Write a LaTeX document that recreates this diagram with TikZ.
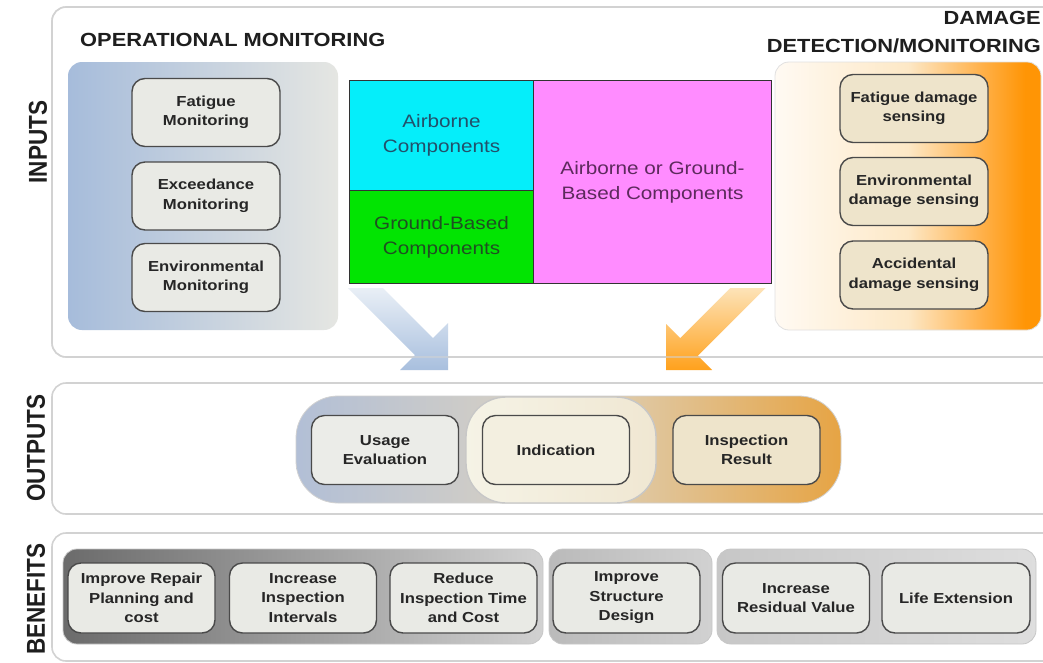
\documentclass[tikz,border=0pt]{standalone}
\usepackage{fontspec}
\usepackage{graphicx}
\setmainfont{Liberation Sans}[FakeStretch=1.15]
\newfontfamily\sidefont{Liberation Sans}

% palette
\definecolor{panelline}{HTML}{D2D2D2}
\definecolor{boxline}{HTML}{4A4A4A}
\definecolor{boxtext}{HTML}{262626}
\definecolor{headtext}{HTML}{1E1E1E}
\definecolor{omL}{HTML}{A6BCDB}
\definecolor{omR}{HTML}{E5E6E2}
\definecolor{grayfill}{HTML}{E9EAE5}
\definecolor{beigefill}{HTML}{EEE4CB}
\definecolor{cyanfill}{HTML}{05EEFA}
\definecolor{greenfill}{HTML}{02E402}
\definecolor{pinkfill}{HTML}{FF8CFF}
\definecolor{cyantext}{HTML}{22506A}
\definecolor{greentext}{HTML}{1F4F22}
\definecolor{pinktext}{HTML}{5D2A5D}
\definecolor{dmA}{HTML}{FFFAF3}
\definecolor{dmB}{HTML}{FDE8C6}
\definecolor{dmC}{HTML}{FFB048}
\definecolor{dmD}{HTML}{FF9505}
\definecolor{outL}{HTML}{B2BFD6}
\definecolor{outM}{HTML}{DDD3C0}
\definecolor{outR}{HTML}{E6A444}
\definecolor{indL}{HTML}{F5F3E6}
\definecolor{indR}{HTML}{F0E7D2}
\definecolor{arrBlueA}{HTML}{E9EFF6}
\definecolor{arrBlueB}{HTML}{A8BFDE}
\definecolor{arrOrA}{HTML}{FDE3B8}
\definecolor{arrOrB}{HTML}{FFA11C}

% background of the damage detection group
\pgfdeclarehorizontalshading{dmgshade}{100bp}{color(0bp)=(dmA); color(25bp)=(dmA); color(50bp)=(dmB); color(64bp)=(dmC); color(72bp)=(dmD); color(100bp)=(dmD)}

\tikzset{
  panel/.style={draw=panelline, line width=1.6pt, rounded corners=14pt, fill=white,
    inner sep=0pt, outer sep=0pt, anchor=north west},
  sidelabel/.style={rotate=90, inner sep=0pt, text=headtext,
    font=\sidefont\bfseries\fontsize{22.5}{24}\selectfont},
  header/.style={inner sep=0pt, text=headtext, font=\bfseries\fontsize{19}{28}\selectfont},
  card/.style={draw=boxline, line width=1.4pt, rounded corners=13pt, minimum width=148pt,
    minimum height=68pt, inner sep=0pt, align=center, text=boxtext,
    font=\bfseries\fontsize{14.5}{19.5}\selectfont},
  graycard/.style={card, fill=grayfill},
  beigecard/.style={card, fill=beigefill},
  block/.style={draw=black!80, line width=1pt, inner sep=0pt, anchor=north west, align=center,
    font=\fontsize{18}{25}\selectfont},
  group/.style={rounded corners=14pt, inner sep=0pt, outer sep=0pt},
  bengroup/.style={group, draw=black!22, line width=0.8pt, minimum height=95pt},
}

\begin{document}
\begin{tikzpicture}[x=1pt,y=-1pt]
\clip (0,0) rectangle (1043,662);
\fill[white] (0,0) rectangle (1043,662);

% ---------- three bands ----------
\node[panel, minimum width=1030pt, minimum height=350pt] (inputs) at (52,7) {};
\node[panel, minimum width=1030pt, minimum height=131pt] (outputs) at (52,383) {};
\node[panel, minimum width=1030pt, minimum height=128pt] (benefits) at (52,533) {};

\node[sidelabel] (lin) at (38,142) {\scalebox{1}[1.15]{INPUTS}};
\node[sidelabel] (lout) at (36,448) {\scalebox{1}[1.15]{OUTPUTS}};
\node[sidelabel] (lben) at (36,599) {\scalebox{1}[1.15]{BENEFITS}};

% ---------- inputs ----------
\node[header, anchor=west] (omhead) at (80,40) {OPERATIONAL MONITORING};
\node[header, anchor=north east, align=right] (dmhead) at (1041,11) {DAMAGE\\DETECTION/MONITORING};

\node[group, anchor=north west, minimum width=270pt, minimum height=268pt,
      left color=omL, right color=omR] (omgroup) at (68,62) {};
\node[graycard] (fat) at (206,112.5) {Fatigue\\Monitoring};
\node[graycard] (exc) at (206,196) {Exceedance\\Monitoring};
\node[graycard] (env) at (206,277.5) {Environmental\\Monitoring};

\node[group, anchor=north west, minimum width=266pt, minimum height=268pt,
      shading=dmgshade, draw=black!12, line width=0.8pt] (dmgroup) at (775,62) {};
\node[beigecard] (fds) at (914,108.5) {Fatigue damage\\sensing};
\node[beigecard] (eds) at (914,191.5) {Environmental\\damage sensing};
\node[beigecard] (ads) at (914,275) {Accidental\\damage sensing};

\node[block, fill=cyanfill, text=cyantext, minimum width=184pt, minimum height=110pt] (air) at (349,80) {Airborne\\Components};
\node[block, fill=greenfill, text=greentext, minimum width=184pt, minimum height=93pt] (gnd) at (349,190) {Ground-Based\\Components};
\node[block, fill=pinkfill, text=pinktext, minimum width=238pt, minimum height=203pt] (both) at (533,80) {Airborne or Ground-\\Based Components};

% ---------- flow arrows into the outputs ----------
\shade[top color=arrBlueA, bottom color=arrBlueB]
  (348,288) -- (383,288) -- (433,338) -- (448,323) -- (448,370) -- (400,370) -- (415,355) -- cycle;
\shade[top color=arrOrA, bottom color=arrOrB]
  (730.4,288) -- (765.6,288) -- (697.8,355.8) -- (712,370) -- (666,370) -- (666,324) -- (680.2,338.2) -- cycle;
\draw[panelline, line width=1.6pt, draw opacity=.55, rounded corners=14pt]
  (inputs.north west) rectangle (inputs.south east);

% ---------- outputs ----------
\node[group, minimum width=545pt, minimum height=107pt, rounded corners=42pt,
      draw=black!18, line width=0.8pt,
      left color=outL, right color=outR, middle color=outM] (outgroup) at (568.5,449.5) {};
\node[group, minimum width=190pt, minimum height=106pt, rounded corners=40pt,
      draw=black!22, line width=1.4pt, left color=indL, right color=indR] (indgroup) at (561,450) {};
\node[card, fill=grayfill!90!white, minimum width=147pt, minimum height=69pt] (use) at (385,450) {Usage\\Evaluation};
\node[card, fill=indL!70!indR, minimum width=147pt, minimum height=69pt] (ind) at (556,450) {Indication};
\node[card, fill=beigefill, minimum width=147pt, minimum height=69pt] (insp) at (746.5,450) {Inspection\\Result};

% ---------- benefits ----------
\node[bengroup, minimum width=480pt, left color=black!58, right color=black!18] (bg1) at (303,596.5) {};
\node[bengroup, minimum width=163pt, left color=black!27, right color=black!18] (bg2) at (630.5,596.5) {};
\node[bengroup, minimum width=319pt, left color=black!22, right color=black!13] (bg3) at (876.5,596.5) {};

\node[graycard, minimum width=147pt, minimum height=70pt] (b1) at (141.5,598) {Improve Repair\\Planning and\\cost};
\node[graycard, minimum width=147pt, minimum height=70pt] (b2) at (303,598) {Increase\\Inspection\\Intervals};
\node[graycard, minimum width=147pt, minimum height=70pt] (b3) at (463.5,598) {Reduce\\Inspection Time\\and Cost};
\node[graycard, minimum width=147pt, minimum height=70pt] (b4) at (626.5,598) {Improve\\Structure\\Design};
\node[graycard, minimum width=147pt, minimum height=70pt] (b5) at (796,598) {Increase\\Residual Value};
\node[graycard, minimum width=148pt, minimum height=70pt] (b6) at (956,598) {Life Extension};

\end{tikzpicture}
\end{document}
